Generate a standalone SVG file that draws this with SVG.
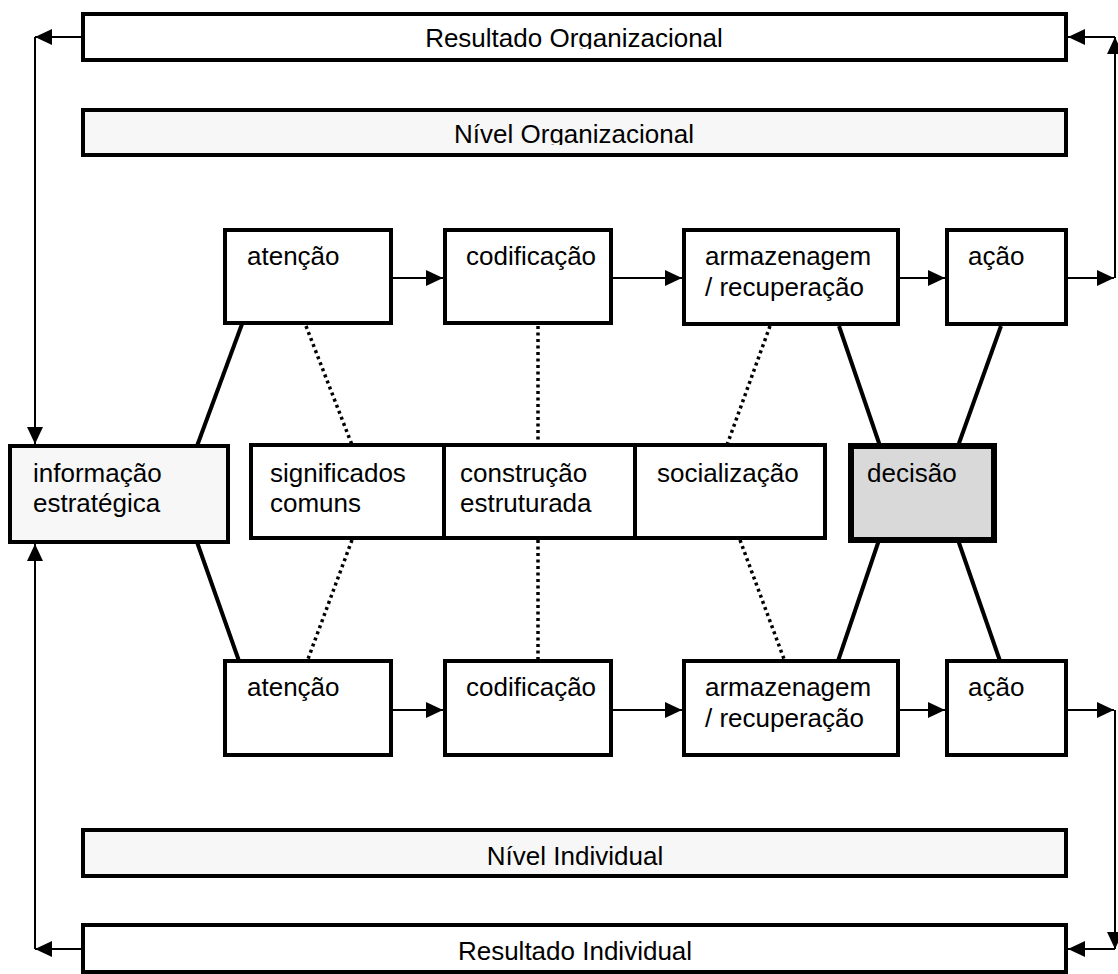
<svg xmlns="http://www.w3.org/2000/svg" width="1118" height="974" viewBox="0 0 1118 974">
  <style>
    .box { fill: #ffffff; stroke: #000000; stroke-width: 4; }
    .bar { fill: #f7f7f7; stroke: #000000; stroke-width: 4; }
    .info { fill: #f7f7f7; stroke: #000000; stroke-width: 4; }
    .dec { fill: #d9d9d9; stroke: #000000; stroke-width: 6; }
    .lbl { font-family: "Liberation Sans", Arial, sans-serif; font-size: 26px; fill: #000000; }
    .mid { text-anchor: middle; }
    .arrow { fill: none; stroke: #000000; stroke-width: 2; marker-end: url(#head); }
    .solid { stroke: #000000; stroke-width: 4; }
    .dots { stroke: #000000; stroke-width: 3.5; stroke-dasharray: 3 3.5; }
  </style>
  <defs>
    <marker id="head" markerUnits="userSpaceOnUse" markerWidth="17" markerHeight="16" refX="17" refY="8" orient="auto">
      <path d="M0,0 L17,8 L0,16 Z" fill="#000000"/>
    </marker>
    <clipPath id="clipTop"><rect x="85" y="16" width="979" height="33"/></clipPath>
    <clipPath id="clipOrg"><rect x="85" y="112" width="979" height="33"/></clipPath>
  </defs>

  <rect width="1118" height="974" fill="#ffffff"/>

  <!-- connectors -->
  <g id="connectors">
    <!-- solid links from the info box and to the decision box -->
    <line class="solid" x1="242" y1="324" x2="197" y2="446"/>
    <line class="solid" x1="197" y1="542" x2="239" y2="661"/>
    <line class="solid" x1="839" y1="326" x2="880" y2="446"/>
    <line class="solid" x1="1001" y1="326" x2="958" y2="446"/>
    <line class="solid" x1="879" y1="540" x2="838" y2="661"/>
    <line class="solid" x1="958" y1="540" x2="1000" y2="661"/>

    <!-- dotted links to the shared-meaning boxes -->
    <line class="dots" x1="306" y1="326" x2="352" y2="445"/>
    <line class="dots" x1="352" y1="540" x2="308" y2="659"/>
    <line class="dots" x1="538" y1="326" x2="538" y2="445"/>
    <line class="dots" x1="538" y1="540" x2="538" y2="659"/>
    <line class="dots" x1="770" y1="326" x2="727" y2="445"/>
    <line class="dots" x1="740" y1="540" x2="784" y2="659"/>

    <!-- organizational row -->
    <line class="arrow" x1="393" y1="278" x2="443" y2="278"/>
    <line class="arrow" x1="613" y1="278" x2="682" y2="278"/>
    <line class="arrow" x1="900" y1="278" x2="945" y2="278"/>
    <line class="arrow" x1="1068" y1="278" x2="1114" y2="278"/>

    <!-- individual row -->
    <line class="arrow" x1="393" y1="710" x2="443" y2="710"/>
    <line class="arrow" x1="613" y1="710" x2="682" y2="710"/>
    <line class="arrow" x1="900" y1="710" x2="945" y2="710"/>
    <line class="arrow" x1="1068" y1="710" x2="1114" y2="710"/>

    <!-- right-hand feedback to the results -->
    <line class="arrow" x1="1115" y1="278" x2="1115" y2="37"/>
    <line class="arrow" x1="1115" y1="37" x2="1068" y2="37"/>
    <line class="arrow" x1="1115" y1="710" x2="1115" y2="949"/>
    <line class="arrow" x1="1115" y1="949" x2="1068" y2="949"/>

    <!-- left-hand return to strategic information -->
    <line class="arrow" x1="83" y1="37" x2="35" y2="37"/>
    <line class="arrow" x1="35" y1="37" x2="35" y2="444"/>
    <line class="arrow" x1="83" y1="949" x2="35" y2="949"/>
    <line class="arrow" x1="35" y1="949" x2="35" y2="544"/>
  </g>

  <!-- result and level bars -->
  <g id="resultado-organizacional">
    <rect class="box" x="83" y="14" width="983" height="46"/>
    <text class="lbl mid" x="574" y="47" clip-path="url(#clipTop)">Resultado Organizacional</text>
  </g>
  <g id="nivel-organizacional">
    <rect class="bar" x="83" y="110" width="983" height="45"/>
    <text class="lbl mid" x="574" y="143" clip-path="url(#clipOrg)">Nível Organizacional</text>
  </g>
  <g id="nivel-individual">
    <rect class="bar" x="83" y="830" width="983" height="46"/>
    <text class="lbl mid" x="575" y="865">Nível Individual</text>
  </g>
  <g id="resultado-individual">
    <rect class="box" x="83" y="925" width="983" height="47"/>
    <text class="lbl mid" x="575" y="960">Resultado Individual</text>
  </g>

  <!-- organizational process -->
  <g id="org-atencao">
    <rect class="box" x="225" y="230" width="166" height="93"/>
    <text class="lbl" x="247" y="265">atenção</text>
  </g>
  <g id="org-codificacao">
    <rect class="box" x="445" y="230" width="166" height="93"/>
    <text class="lbl" x="466" y="265">codificação</text>
  </g>
  <g id="org-armazenagem">
    <rect class="box" x="684" y="230" width="214" height="94"/>
    <text class="lbl" x="705" y="265">armazenagem</text>
    <text class="lbl" x="705" y="296">/ recuperação</text>
  </g>
  <g id="org-acao">
    <rect class="box" x="947" y="230" width="119" height="94"/>
    <text class="lbl" x="968" y="265">ação</text>
  </g>

  <!-- middle band -->
  <g id="informacao-estrategica">
    <rect class="info" x="10" y="446" width="218" height="96"/>
    <text class="lbl" x="33" y="482">informação</text>
    <text class="lbl" x="33" y="512">estratégica</text>
  </g>
  <g id="significados-comuns">
    <rect class="box" x="251" y="445" width="193" height="93"/>
    <text class="lbl" x="270" y="482">significados</text>
    <text class="lbl" x="270" y="512">comuns</text>
  </g>
  <g id="construcao-estruturada">
    <rect class="box" x="444" y="445" width="191" height="93"/>
    <text class="lbl" x="460" y="482">construção</text>
    <text class="lbl" x="460" y="512">estruturada</text>
  </g>
  <g id="socializacao">
    <rect class="box" x="635" y="445" width="190" height="93"/>
    <text class="lbl" x="657" y="482">socialização</text>
  </g>
  <g id="decisao">
    <rect class="dec" x="851" y="446" width="143" height="94"/>
    <text class="lbl" x="867" y="482">decisão</text>
  </g>

  <!-- individual process -->
  <g id="ind-atencao">
    <rect class="box" x="225" y="661" width="166" height="94"/>
    <text class="lbl" x="247" y="696">atenção</text>
  </g>
  <g id="ind-codificacao">
    <rect class="box" x="445" y="661" width="166" height="94"/>
    <text class="lbl" x="466" y="696">codificação</text>
  </g>
  <g id="ind-armazenagem">
    <rect class="box" x="684" y="661" width="214" height="94"/>
    <text class="lbl" x="705" y="696">armazenagem</text>
    <text class="lbl" x="705" y="727">/ recuperação</text>
  </g>
  <g id="ind-acao">
    <rect class="box" x="947" y="661" width="119" height="94"/>
    <text class="lbl" x="968" y="696">ação</text>
  </g>
</svg>
